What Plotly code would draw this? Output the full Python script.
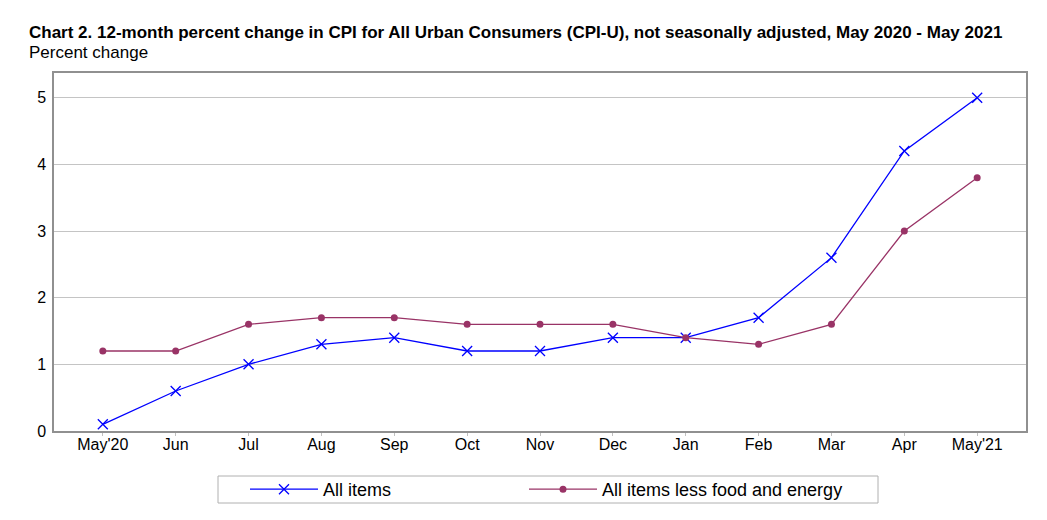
import plotly.graph_objects as go

months = ["May'20", "Jun", "Jul", "Aug", "Sep", "Oct", "Nov", "Dec", "Jan", "Feb", "Mar", "Apr", "May'21"]
all_items = [0.1, 0.6, 1.0, 1.3, 1.4, 1.2, 1.2, 1.4, 1.4, 1.7, 2.6, 4.2, 5.0]
core = [1.2, 1.2, 1.6, 1.7, 1.7, 1.6, 1.6, 1.6, 1.4, 1.3, 1.6, 3.0, 3.8]
y_ticks = [0, 1, 2, 3, 4, 5]

x_idx = list(range(len(months)))

fig = go.Figure()
fig.add_trace(go.Scatter(
    x=x_idx, y=all_items, name="All items", mode="lines+markers",
    line=dict(color="#0000ff", width=1.3),
    marker=dict(symbol="x-thin", size=10, line=dict(color="#0000ff", width=1.3)),
    legend="legend",
))
fig.add_trace(go.Scatter(
    x=x_idx, y=core, name="All items less food and energy", mode="lines+markers",
    line=dict(color="#993366", width=1.3),
    marker=dict(symbol="circle", size=7, color="#993366"),
    legend="legend2",
))

font_fam = "Liberation Sans, Arial, sans-serif"
PH = 358.0  # plot height in px
PW = 972.0  # plot width in px
PX0 = 54.0  # plot left on screen
PY1 = 431.0  # plot bottom on screen

def px_x(sx):
    return (sx - PX0) / PW

def px_y(sy):
    return -(sy - PY1) / PH

leg_common = dict(
    orientation="h", yanchor="middle", y=px_y(489.5), xanchor="left",
    borderwidth=0, bgcolor="rgba(0,0,0,0)",
    font=dict(size=18, family=font_fam), itemwidth=68,
)

fig.update_layout(
    width=1039, height=512,
    margin=dict(l=46, r=21, t=65, b=89, autoexpand=False),
    paper_bgcolor="white", plot_bgcolor="white",
    font=dict(family=font_fam, size=16, color="#000000"),
    showlegend=True,
    legend=dict(x=px_x(245), **leg_common),
    legend2=dict(x=px_x(524), **leg_common),
    xaxis=dict(
        range=[-0.67, len(months) - 1 + 0.67],
        tickmode="array", tickvals=x_idx, ticktext=months,
        showgrid=False, zeroline=False,
        showline=True, linecolor="#909090", linewidth=1.5, mirror=True,
        ticks="outside", ticklen=3, tickcolor="#c0c0c0",
        tickfont=dict(size=16), ticklabelstandoff=-5,
    ),
    yaxis=dict(
        range=[0, 5.37],
        tickmode="array", tickvals=y_ticks,
        showgrid=True, gridcolor="#c4c4c4", gridwidth=1.2,
        zeroline=False,
        showline=True, linecolor="#909090", linewidth=1.5, mirror=True,
        ticks="", ticklabelstandoff=3,
        tickfont=dict(size=16),
    ),
    shapes=[
        dict(type="rect", xref="paper", yref="paper",
             x0=px_x(218), x1=px_x(878), y0=px_y(503), y1=px_y(476),
             line=dict(color="#b0b0b0", width=1), fillcolor="rgba(0,0,0,0)", layer="below"),
    ],
    annotations=[
        dict(text="<b>Chart 2. 12-month percent change in CPI for All Urban Consumers (CPI-U), not seasonally adjusted, May 2020 - May 2021</b>",
             xref="paper", yref="paper", x=px_x(27), y=1 + (73 - 32) / PH, xanchor="left", yanchor="middle",
             showarrow=False, font=dict(size=17, family=font_fam)),
        dict(text="Percent change",
             xref="paper", yref="paper", x=px_x(27), y=1 + (73 - 53) / PH, xanchor="left", yanchor="middle",
             showarrow=False, font=dict(size=17, family=font_fam)),
    ],
)

fig.write_html("out.html")
